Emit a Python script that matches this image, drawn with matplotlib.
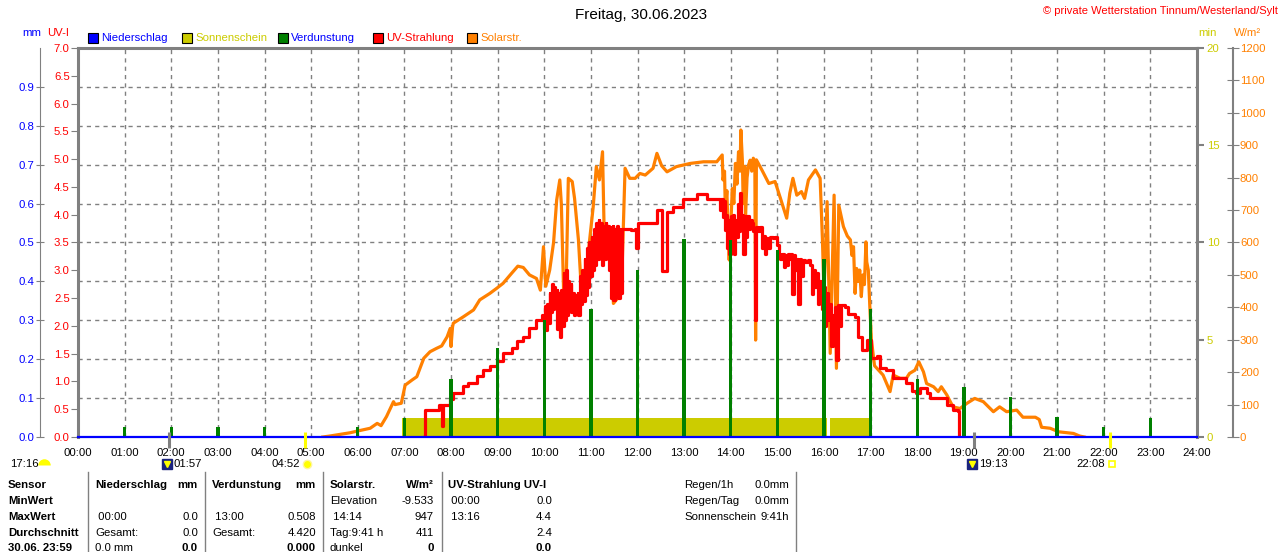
import matplotlib.pyplot as plt
from matplotlib.patches import Rectangle
from matplotlib.markers import MarkerStyle

plt.rcParams['font.family'] = ['Liberation Sans', 'DejaVu Sans']

W, H = 1280, 552


def h(t):
    # "HH:MM" -> Stunden als Dezimalzahl
    hh, mm = t.split(':')
    return int(hh) + int(mm) / 60


# ---- Daten ----
stunden = list(range(25))
stunden_labels = ['%02d:00' % s for s in stunden]

niederschlag_mm = [0.0, 0.0, 0.0, 0.0, 0.0, 0.0, 0.0, 0.0, 0.0, 0.0, 0.0, 0.0, 0.0,
                   0.0, 0.0, 0.0, 0.0, 0.0, 0.0, 0.0, 0.0, 0.0, 0.0, 0.0, 0.0]

verdunstung_std = list(range(24))
verdunstung_mm = [0.0, 0.025, 0.025, 0.025, 0.025, 0.0, 0.025, 0.05, 0.15, 0.23, 0.30, 0.33,
                  0.43, 0.508, 0.506, 0.48, 0.457, 0.33, 0.15, 0.128, 0.102, 0.051, 0.026, 0.05]

sonnen_von = ['06:57', '16:08']
sonnen_bis = ['16:04', '17:00']
sonnen_min = 1.0

solar_zeit = ['05:15', '05:24', '05:50', '05:59', '06:16', '06:25', '06:30', '06:37', '06:46', '06:48',
              '06:56', '07:01', '07:10', '07:16', '07:25', '07:33', '07:41', '07:48', '07:55', '07:59',
              '08:00', '08:02', '08:03', '08:16', '08:29', '08:37', '08:50', '08:59', '09:07', '09:18',
              '09:26', '09:33', '09:41', '09:50', '09:55', '09:59', '10:02', '10:07', '10:12', '10:16',
              '10:20', '10:22', '10:25', '10:28', '10:31', '10:36', '10:39', '10:44', '10:48', '10:52',
              '10:57', '11:03', '11:07', '11:11', '11:15', '11:17', '11:25', '11:29', '11:35', '11:40',
              '11:44', '11:50', '11:57', '12:03', '12:10', '12:20', '12:25', '12:31', '12:38', '12:50',
              '13:08', '13:25', '13:42', '13:49', '13:50', '13:52', '13:53', '13:55', '13:57', '13:58',
              '14:00', '14:02', '14:04', '14:06', '14:08', '14:10', '14:12', '14:13', '14:15', '14:16',
              '14:18', '14:19', '14:21', '14:23', '14:25', '14:27', '14:29', '14:31', '14:32', '14:33',
              '14:40', '14:49', '14:57', '15:04', '15:12', '15:16', '15:20', '15:25', '15:31', '15:35',
              '15:40', '15:49', '15:55', '15:58', '16:00', '16:04', '16:08', '16:13', '16:16', '16:19',
              '16:25', '16:30', '16:34', '16:36', '16:38', '16:40', '16:42', '16:44', '16:46', '16:48',
              '16:50', '16:52', '16:54', '16:55', '16:57', '16:59', '17:01', '17:05', '17:16', '17:25',
              '17:29', '17:38', '17:46', '17:50', '17:57', '18:02', '18:08', '18:12', '18:21', '18:27',
              '18:31', '18:38', '18:46', '18:55', '19:04', '19:14', '19:25', '19:38', '19:46', '19:55',
              '20:08', '20:16', '20:32', '20:37', '20:40', '20:51', '21:02', '21:21', '21:29', '21:35']
solar_wm2 = [0, 3, 13, 18, 27, 42, 35, 63, 109, 100,
             104, 160, 176, 186, 243, 263, 273, 281, 309, 335,
             279, 340, 351, 371, 392, 423, 443, 459, 474, 505,
             527, 523, 500, 489, 453, 587, 465, 515, 600, 731,
             793, 719, 440, 450, 798, 788, 736, 608, 443, 430,
             577, 710, 834, 793, 880, 645, 645, 412, 430, 505,
             829, 798, 798, 813, 808, 829, 875, 837, 818, 834,
             844, 849, 849, 870, 793, 820, 700, 760, 600, 546,
             650, 766, 720, 844, 780, 880, 820, 947, 850, 720,
             835, 680, 800, 840, 854, 820, 860, 850, 299, 855,
             824, 782, 788, 736, 675, 752, 798, 746, 757, 736,
             793, 824, 798, 608, 440, 726, 258, 746, 212, 715,
             649, 620, 608, 560, 587, 443, 520, 480, 515, 433,
             500, 470, 602, 540, 515, 400, 300, 220, 191, 140,
             191, 181, 181, 196, 206, 232, 201, 165, 155, 140,
             155, 130, 93, 88, 104, 119, 109, 78, 93, 78,
             83, 61, 61, 54, 30, 27, 16, 11, 3, 0]

uv_zeit = ['07:25', '07:26', '07:41', '07:45', '07:48', '07:50', '07:59', '08:03', '08:16', '08:22',
           '08:33', '08:41', '08:50', '08:59', '09:07', '09:18', '09:25', '09:33', '09:41', '09:50',
           '09:57', '10:00', '10:01', '10:02', '10:04', '10:05', '10:07', '10:08', '10:10', '10:11',
           '10:13', '10:14', '10:16', '10:17', '10:19', '10:20', '10:22', '10:23', '10:25', '10:26',
           '10:28', '10:29', '10:31', '10:32', '10:34', '10:35', '10:37', '10:38', '10:40', '10:41',
           '10:43', '10:44', '10:46', '10:47', '10:49', '10:50', '10:52', '10:53', '10:55', '10:56',
           '10:58', '10:59', '11:01', '11:02', '11:04', '11:05', '11:07', '11:08', '11:10', '11:11',
           '11:13', '11:14', '11:16', '11:17', '11:19', '11:20', '11:22', '11:23', '11:25', '11:26',
           '11:28', '11:29', '11:31', '11:32', '11:34', '11:35', '11:37', '11:38', '11:40', '11:46',
           '11:52', '11:57', '11:58', '12:01', '12:16', '12:25', '12:31', '12:32', '12:38', '12:46',
           '12:59', '13:16', '13:29', '13:42', '13:46', '13:48', '13:50', '13:51', '13:52', '13:54',
           '13:55', '13:56', '13:58', '14:00', '14:01', '14:03', '14:04', '14:06', '14:07', '14:09',
           '14:10', '14:12', '14:13', '14:15', '14:16', '14:18', '14:19', '14:21', '14:23', '14:25',
           '14:27', '14:29', '14:31', '14:33', '14:35', '14:38', '14:40', '14:42', '14:44', '14:46',
           '14:48', '14:50', '14:54', '14:57', '15:00', '15:02', '15:04', '15:06', '15:08', '15:10',
           '15:12', '15:14', '15:16', '15:18', '15:19', '15:21', '15:23', '15:25', '15:27', '15:29',
           '15:31', '15:33', '15:36', '15:39', '15:42', '15:44', '15:46', '15:48', '15:50', '15:52',
           '15:54', '15:56', '15:58', '16:00', '16:01', '16:03', '16:05', '16:07', '16:09', '16:11',
           '16:13', '16:14', '16:16', '16:18', '16:20', '16:22', '16:27', '16:31', '16:40', '16:44',
           '16:49', '16:55', '17:01', '17:08', '17:12', '17:20', '17:29', '17:40', '17:46', '17:53',
           '17:59', '18:04', '18:12', '18:16', '18:34', '18:38', '18:46', '18:53', '18:54']
uv_index = [0.0, 0.49, 0.49, 0.58, 0.19, 0.58, 0.68, 0.79, 0.91, 0.98,
            1.09, 1.21, 1.27, 1.36, 1.51, 1.60, 1.72, 1.80, 1.96, 2.11,
            2.19, 1.95, 2.35, 1.92, 2.40, 2.05, 2.60, 2.25, 2.75, 2.30,
            2.70, 2.35, 2.65, 1.95, 2.60, 1.80, 2.65, 2.00, 2.95, 2.10,
            3.00, 2.20, 2.80, 2.30, 2.75, 2.25, 2.60, 2.20, 2.55, 2.25,
            2.60, 2.20, 2.90, 2.40, 3.00, 2.45, 3.20, 2.55, 3.40, 2.70,
            3.50, 2.90, 3.60, 3.00, 3.75, 3.10, 3.85, 3.20, 3.90, 3.30,
            3.85, 3.10, 3.80, 3.20, 3.85, 3.30, 3.80, 3.00, 3.78, 2.50,
            3.80, 2.46, 3.75, 2.55, 3.80, 2.50, 3.75, 2.60, 3.75, 3.75,
            3.72, 3.75, 3.40, 3.85, 3.85, 4.08, 3.97, 2.98, 4.05, 4.14,
            4.29, 4.38, 4.29, 4.29, 4.08, 4.29, 3.95, 4.25, 3.72, 4.00,
            3.40, 3.90, 3.30, 3.97, 3.50, 4.00, 3.30, 3.90, 3.60, 4.20,
            3.70, 4.39, 3.80, 4.00, 3.30, 3.97, 3.60, 3.97, 3.75, 3.90,
            3.85, 3.70, 2.10, 3.78, 3.70, 3.78, 3.40, 3.62, 3.30, 3.58,
            3.40, 3.60, 3.58, 3.60, 3.45, 3.30, 3.20, 3.30, 3.06, 3.27,
            3.10, 3.30, 3.20, 3.30, 2.57, 3.27, 3.00, 3.20, 2.40, 3.20,
            2.90, 3.18, 3.15, 3.18, 3.10, 2.57, 3.00, 2.70, 2.96, 2.40,
            2.80, 2.70, 2.30, 2.70, 2.00, 2.60, 2.10, 2.40, 1.63, 2.20,
            1.80, 2.34, 1.39, 2.37, 2.00, 2.37, 2.34, 2.22, 2.16, 1.80,
            1.57, 1.75, 1.42, 1.45, 1.25, 1.21, 1.06, 1.06, 0.97, 0.82,
            0.79, 0.88, 0.79, 0.70, 0.70, 0.58, 0.49, 0.46, 0.0]
assert len(solar_zeit) == len(solar_wm2) and len(uv_zeit) == len(uv_index)

mond_auf, mond_unter = '01:57', '19:13'
sonne_auf, sonne_unter = '04:52', '22:08'
mond_vortag = '17:16'

# Farben
GRAU = '#808080'
BLAU = '#0000ff'
OLIV = '#cccc00'
GRUEN = '#008000'
ROT = '#ff0000'
ORANGE = '#ff8000'
GELB = '#ffff00'
FS = 8.2


def px_text(x, y, s, **kw):
    kw.setdefault('fontsize', FS)
    kw.setdefault('va', 'center')
    fig.text(x / W, 1 - y / H, s, **kw)


fig = plt.figure(figsize=(W / 100, H / 100), dpi=100)
ax = fig.add_axes([78 / W, 1 - 437 / H, (1197 - 78) / W, (437 - 48) / H])

# mm-Achse (links aussen) + Gitter
ax.set_xlim(0, 24)
ax.set_ylim(0, 1.0)
ax.set_yticks([i / 10 for i in range(10)])
ax.set_yticklabels(['%.1f' % (i / 10) for i in range(10)])
ax.tick_params(axis='y', colors=GRAU, labelcolor=BLAU, direction='inout', length=6,
               labelsize=FS, pad=1)
ax.set_xticks(stunden)
ax.set_xticklabels(stunden_labels)
ax.tick_params(axis='x', length=0, pad=8, labelsize=FS)
ax.grid(True, color=GRAU, ls=(0, (3, 3)), lw=1)
for s in ['top', 'right', 'bottom']:
    ax.spines[s].set_visible(False)
ax.spines['left'].set_position(('outward', 38 * 0.72))
ax.spines['left'].set_color(GRAU)

# Sonnenschein (min)
ax_min = ax.twinx()
ax_min.set_ylim(0, 20)
ax_min.set_yticks([0, 5, 10, 15, 20])
ax_min.tick_params(axis='y', colors=GRAU, labelcolor=OLIV, length=5, width=1.5,
                   labelsize=FS, pad=2)
for s in ['top', 'left', 'bottom']:
    ax_min.spines[s].set_visible(False)
ax_min.spines['right'].set_color(GRAU)
ax_min.spines['right'].set_linewidth(2.2)
for a, b in zip(sonnen_von, sonnen_bis):
    ax_min.fill_between([h(a), h(b)], 0, sonnen_min, color=OLIV, lw=0)

# Solarstrahlung
ax_sol = ax.twinx()
ax_sol.set_ylim(0, 1200)
ax_sol.set_yticks(list(range(0, 1201, 100)))
ax_sol.tick_params(axis='y', colors=GRAU, labelcolor=ORANGE, direction='inout', length=8,
                   labelsize=FS, pad=1)
for s in ['top', 'left', 'bottom']:
    ax_sol.spines[s].set_visible(False)
ax_sol.spines['right'].set_position(('outward', 36 * 0.72))
ax_sol.spines['right'].set_color(GRAU)
ax_sol.spines['right'].set_linewidth(1.5)
ax_sol.plot([h(t) for t in solar_zeit], solar_wm2, color=ORANGE, lw=2.3)

# UV-Strahlung
ax_uv = ax.twinx()
ax_uv.set_ylim(0, 7)
ax_uv.yaxis.tick_left()
ax_uv.set_yticks([i / 2 for i in range(15)])
ax_uv.set_yticklabels(['%.1f' % (i / 2) for i in range(15)])
ax_uv.tick_params(axis='y', colors=GRAU, labelcolor=ROT, length=5, labelsize=FS, pad=1)
for s in ['right', 'bottom']:
    ax_uv.spines[s].set_visible(False)
for s in ['left', 'top']:
    ax_uv.spines[s].set_color(GRAU)
    ax_uv.spines[s].set_linewidth(2.2)
ax_uv.plot([h(t) for t in uv_zeit], uv_index, color=ROT, lw=2.3, drawstyle='steps-post')

# Verdunstung + Niederschlag
ax_v = ax.twinx()
ax_v.set_ylim(0, 1.0)
ax_v.set_yticks([])
for s in ax_v.spines.values():
    s.set_visible(False)
ax_v.bar(verdunstung_std, verdunstung_mm, width=0.07, color=GRUEN)
ax_v.plot(stunden, niederschlag_mm, color=BLAU, lw=1.6, clip_on=False)

# Sonnen-/Mondmarken unter der Achse
trans = ax_v.get_xaxis_transform()
ax_v.vlines([h(mond_auf), h(mond_unter)], -0.028, 0.013, transform=trans,
            colors=GRAU, lw=2.2, clip_on=False)
ax_v.vlines([h(sonne_auf), h(sonne_unter)], -0.028, 0.013, transform=trans,
            colors=GELB, lw=2.2, clip_on=False)
yl = -0.07
for t in [mond_auf, mond_unter]:
    ax_v.add_patch(Rectangle((h(t) - 0.14, yl - 0.013), 0.21, 0.027, transform=trans,
                             color='#1a237e', clip_on=False))
    ax_v.plot([h(t) - 0.05], [yl], marker='v', ms=4, color=GELB,
              transform=trans, clip_on=False)
    ax_v.text(h(t) + 0.1, yl, t, transform=trans, fontsize=FS, va='center', ha='left')
ax_v.text(h(sonne_auf) - 0.1, yl, sonne_auf, transform=trans, fontsize=FS, va='center', ha='right')
ax_v.plot([h(sonne_auf) + 0.04], [yl], marker='o', ms=6, color=GELB, mec='#fff59d',
          transform=trans, clip_on=False)
ax_v.text(h(sonne_unter) - 0.1, yl, sonne_unter, transform=trans, fontsize=FS, va='center', ha='right')
ax_v.plot([h(sonne_unter) + 0.04], [yl], marker='s', ms=4, mfc='white', mec=GELB, mew=1.2,
          transform=trans, clip_on=False)
px_text(10, 464, mond_vortag)
fig.add_artist(plt.Line2D([44 / W], [1 - 465 / H], marker=MarkerStyle('o', fillstyle='top'),
                          ms=9, color=GELB, mfc=GELB, mfcalt='none', mec='none', ls='none',
                          transform=fig.transFigure))

# Kopfzeile
px_text(641, 15, 'Freitag, 30.06.2023', ha='center', fontsize=11)
px_text(1278, 11, '\u00a9 private Wetterstation Tinnum/Westerland/Sylt', ha='right',
        color=ROT, fontsize=8)
px_text(22, 33, 'mm', color=BLAU)
px_text(47, 33, 'UV-I', color=ROT)
px_text(1198, 33, 'min', color=OLIV)
px_text(1234, 33, 'W/m\u00b2', color=ORANGE)

legende = [('Niederschlag', BLAU, BLAU), ('Sonnenschein', OLIV, OLIV),
           ('Verdunstung', GRUEN, BLAU), ('UV-Strahlung', ROT, ROT), ('Solarstr.', ORANGE, ORANGE)]
lx = [88, 182, 278, 373, 467]
for (name, fc, tc), x in zip(legende, lx):
    fig.patches.append(Rectangle((x / W, 1 - 43 / H), 10 / W, 10 / H, facecolor=fc,
                                 edgecolor='black', lw=0.8, transform=fig.transFigure, figure=fig))
    px_text(x + 13, 38, name, color=tc)

# Tabelle
for x in [88, 205, 323, 442, 796]:
    fig.add_artist(plt.Line2D([x / W, x / W], [0, 1 - 472 / H], color=GRAU, lw=1,
                              transform=fig.transFigure))
zeilen_y = [485, 501, 517, 533, 548]
zeilen = ['Sensor', 'MinWert', 'MaxWert', 'Durchschnitt', '30.06. 23:59']
for y, s in zip(zeilen_y, zeilen):
    px_text(8, y, s, fontweight='bold')

spalten = [
    (95, 198, [('Niederschlag', 'mm'), ('', ''), (' 00:00', '0.0'), ('Gesamt:', '0.0'), ('0.0 mm', '0.0')]),
    (212, 316, [('Verdunstung', 'mm'), ('', ''), (' 13:00', '0.508'), ('Gesamt:', '4.420'), ('', '0.000')]),
    (330, 434, [('Solarstr.', 'W/m\u00b2'), ('Elevation', '-9.533'), (' 14:14', '947'),
                ('Tag:9:41 h', '411'), ('dunkel', '0')]),
    (448, 552, [('UV-Strahlung UV-I', ''), (' 00:00', '0.0'), (' 13:16', '4.4'), ('', '2.4'), ('', '0.0')]),
]
for xl, xr, eintraege in spalten:
    for i, ((links, rechts), y) in enumerate(zip(eintraege, zeilen_y)):
        px_text(xl, y, links, fontweight='bold' if i == 0 else 'normal')
        px_text(xr, y, rechts, ha='right', fontweight='bold' if i in (0, 4) else 'normal')

for y, a, b in [(485, 'Regen/1h', '0.0mm'), (501, 'Regen/Tag', '0.0mm'),
                (517, 'Sonnenschein', '9:41h')]:
    px_text(684, y, a)
    px_text(789, y, b, ha='right')

fig.savefig('out.png', dpi=100)
